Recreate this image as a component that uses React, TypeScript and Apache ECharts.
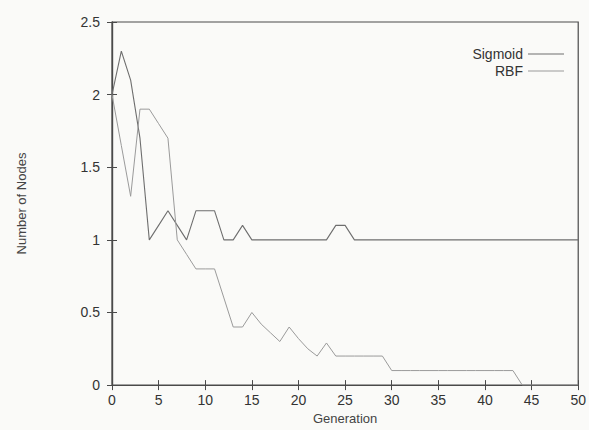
import React, { useEffect, useRef } from "react";
import * as echarts from "echarts";

const generations: number[] = Array.from({ length: 51 }, (_, i) => i);
const sigmoid: number[] = [
  2.0, 2.3, 2.1, 1.7, 1.0, 1.1, 1.2, 1.1, 1.0, 1.2,
  1.2, 1.2, 1.0, 1.0, 1.1, 1.0, 1.0, 1.0, 1.0, 1.0,
  1.0, 1.0, 1.0, 1.0, 1.1, 1.1, 1.0, 1.0, 1.0, 1.0,
  1.0, 1.0, 1.0, 1.0, 1.0, 1.0, 1.0, 1.0, 1.0, 1.0,
  1.0, 1.0, 1.0, 1.0, 1.0, 1.0, 1.0, 1.0, 1.0, 1.0,
  1.0,
];
const rbf: number[] = [
  2.0, 1.65, 1.3, 1.9, 1.9, 1.8, 1.7, 1.0, 0.9, 0.8,
  0.8, 0.8, 0.6, 0.4, 0.4, 0.5, 0.42, 0.36, 0.3, 0.4,
  0.32, 0.25, 0.2, 0.29, 0.2, 0.2, 0.2, 0.2, 0.2, 0.2,
  0.1, 0.1, 0.1, 0.1, 0.1, 0.1, 0.1, 0.1, 0.1, 0.1,
  0.1, 0.1, 0.1, 0.1, 0.0, 0.0, 0.0, 0.0, 0.0, 0.0,
  0.0,
];
const seriesNames = ["Sigmoid", "RBF"];

export default function App() {
  const ref = useRef<HTMLDivElement>(null);
  useEffect(() => {
    if (!ref.current) return;
    const chart = echarts.init(ref.current, undefined, { renderer: "svg" });
    const font = "'Liberation Sans', Arial, sans-serif";
    const axisColor = "#4a4a4a";
    const labelStyle = { color: "#333", fontSize: 14, fontFamily: font };
    const mk = (vals: number[]) => generations.map((g, i) => [g, vals[i]]);
    const legendBase = {
      right: 20,
      align: "right",
      icon: "rect",
      itemWidth: 36,
      itemHeight: 1.2,
      itemGap: 10,
      textStyle: { color: "#333", fontSize: 14, fontFamily: font },
    };
    chart.setOption({
      animation: false,
      backgroundColor: "#fafaf8",
      grid: {
        left: 112,
        right: 9,
        top: 22,
        bottom: 42,
        show: true,
        borderColor: axisColor,
        borderWidth: 1.2,
        backgroundColor: "transparent",
      },
      legend: [
        { ...legendBase, data: [seriesNames[0]], top: 42 },
        { ...legendBase, data: [seriesNames[1]], top: 59 },
      ],
      xAxis: [
        {
          type: "value",
          min: 0,
          max: 50,
          interval: 5,
          name: "Generation",
          nameLocation: "middle",
          nameGap: 25,
          nameTextStyle: { color: "#444", fontSize: 13, fontFamily: font },
          axisLine: { show: true, lineStyle: { color: axisColor, width: 1.2 } },
          axisTick: { show: true, inside: true, length: 5, lineStyle: { color: axisColor } },
          axisLabel: { ...labelStyle, margin: 8 },
          splitLine: { show: false },
        },
        {
          type: "value",
          position: "top",
          min: 0,
          max: 50,
          interval: 5,
          axisLine: { show: true, lineStyle: { color: axisColor, width: 1.2 } },
          axisTick: { show: true, inside: true, length: 5, lineStyle: { color: axisColor } },
          axisLabel: { show: false },
          splitLine: { show: false },
        },
      ],
      yAxis: [
        {
          type: "value",
          min: 0,
          max: 2.5,
          interval: 0.5,
          name: "Number of Nodes",
          nameLocation: "middle",
          nameGap: 84,
          nameRotate: 90,
          nameTextStyle: { color: "#444", fontSize: 13, fontFamily: font },
          axisLine: { show: true, lineStyle: { color: axisColor, width: 1.2 } },
          axisTick: { show: true, inside: true, length: 5, lineStyle: { color: axisColor } },
          axisLabel: { ...labelStyle, margin: 12 },
          splitLine: { show: false },
        },
        {
          type: "value",
          position: "right",
          min: 0,
          max: 2.5,
          interval: 0.5,
          axisLine: { show: true, lineStyle: { color: axisColor, width: 1.2 } },
          axisTick: { show: true, inside: true, length: 5, lineStyle: { color: axisColor } },
          axisLabel: { show: false },
          splitLine: { show: false },
        },
      ],
      series: [
        {
          name: seriesNames[0],
          type: "line",
          data: mk(sigmoid),
          symbol: "none",
          lineStyle: { color: "#6e6e6e", width: 1.1 },
          itemStyle: { color: "#6e6e6e" },
        },
        {
          name: seriesNames[1],
          type: "line",
          data: mk(rbf),
          symbol: "none",
          lineStyle: { color: "#9a9a9a", width: 1 },
          itemStyle: { color: "#9a9a9a" },
        },
      ],
    });
    return () => chart.dispose();
  }, []);
  return (
    <div
      ref={ref}
      style={{ position: "fixed", left: 0, top: 0, width: 589, height: 430 }}
    />
  );
}
